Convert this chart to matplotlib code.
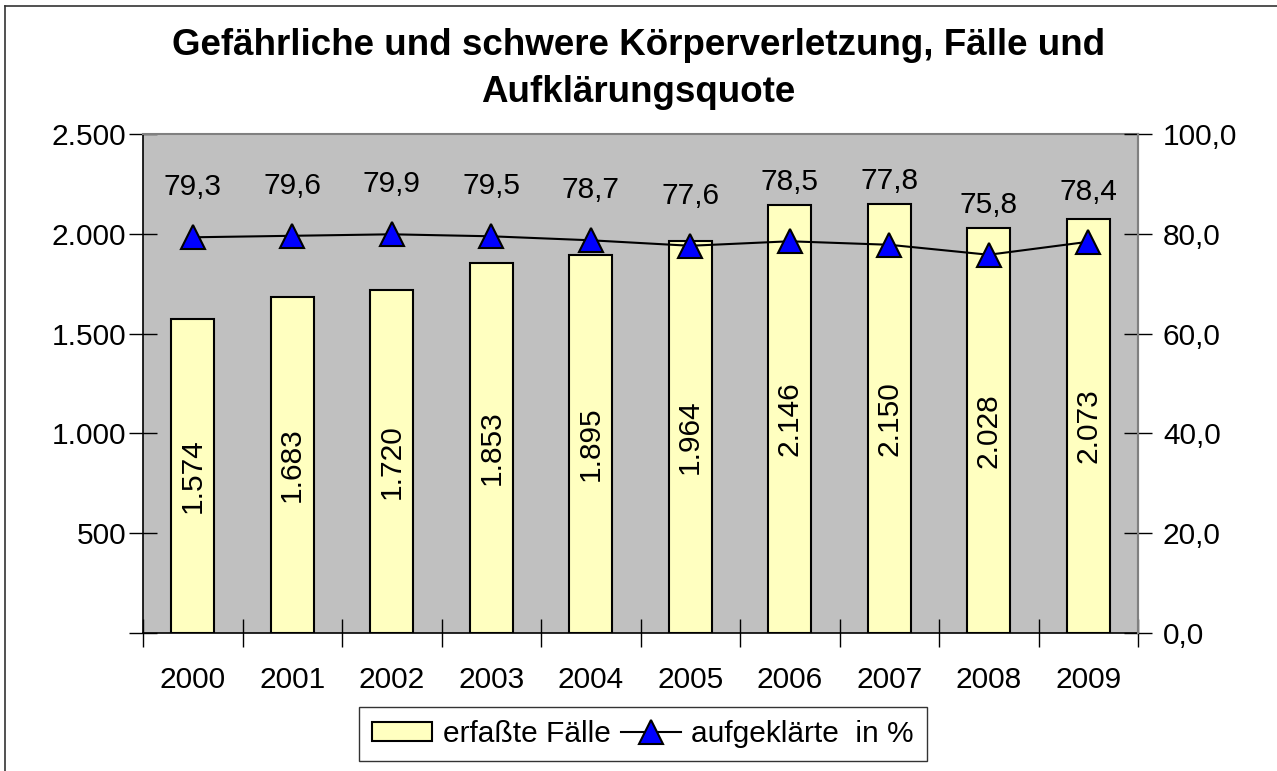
import matplotlib
matplotlib.use("Agg")
import matplotlib.pyplot as plt
from matplotlib.lines import Line2D
from matplotlib.patches import Patch
import numpy as np

years = ["2000", "2001", "2002", "2003", "2004", "2005", "2006", "2007", "2008", "2009"]
cases = [1574, 1683, 1720, 1853, 1895, 1964, 2146, 2150, 2028, 2073]
cleared_pct = [79.3, 79.6, 79.9, 79.5, 78.7, 77.6, 78.5, 77.8, 75.8, 78.4]
left_ticks = [0, 500, 1000, 1500, 2000, 2500]
left_ticklabels = ["", "500", "1.000", "1.500", "2.000", "2.500"]
right_ticks = [0, 20, 40, 60, 80, 100]
right_ticklabels = ["0,0", "20,0", "40,0", "60,0", "80,0", "100,0"]
title = "Gefährliche und schwere Körperverletzung, Fälle und\nAufklärungsquote"
legend_labels = ["erfaßte Fälle", "aufgeklärte  in %"]

plt.rcParams['font.family'] = ['Liberation Sans', 'DejaVu Sans']
FS = 21.5

W, H = 1277, 771
fig = plt.figure(figsize=(W / 100, H / 100), dpi=100)

# figure border (top and left visible)
fig.add_artist(Line2D([5 / W, 5 / W], [0, 1 - 5.5 / H], color='#333333', lw=1.2, transform=fig.transFigure))
fig.add_artist(Line2D([5 / W, 1], [1 - 5.5 / H, 1 - 5.5 / H], color='#333333', lw=1.2, transform=fig.transFigure))

left, right, top, bottom = 143, 1138, 134, 633
ax = fig.add_axes([left / W, 1 - bottom / H, (right - left) / W, (bottom - top) / H])
ax.set_facecolor('#C0C0C0')

x = np.arange(len(years))
ax.bar(x, cases, width=0.43, color='#FFFFC0', edgecolor='black', linewidth=1.5, zorder=2)
ax.set_xlim(-0.5, len(years) - 0.5)
ax.set_ylim(0, 2500)
ax.set_yticks(left_ticks)
ax.set_yticklabels(left_ticklabels, fontsize=FS)
ax.set_xticks(x)
ax.set_xticklabels(years, fontsize=FS)
ax.tick_params(axis='x', length=0, pad=24)
ax.set_xticks(np.arange(len(years) + 1) - 0.5, minor=True)
ax.tick_params(axis='x', which='minor', direction='inout', length=20, width=1)
ax.tick_params(axis='y', direction='inout', length=20, width=1, pad=2)

for xi, v in zip(x, cases):
    ax.text(xi, v / 2, f"{v:,}".replace(",", "."), rotation=90, ha='center', va='center',
            fontsize=FS, zorder=3)

for s in ['top', 'right']:
    ax.spines[s].set_color('#808080')
    ax.spines[s].set_linewidth(1.5)
for s in ['left', 'bottom']:
    ax.spines[s].set_color('black')
    ax.spines[s].set_linewidth(1.2)

ax2 = ax.twinx()
ax2.set_ylim(0, 100)
ax2.plot(x, cleared_pct, color='black', lw=1.5, marker='^', markersize=17,
         markerfacecolor='#0000FF', markeredgecolor='black', markeredgewidth=1.5, zorder=4)
ax2.set_yticks(right_ticks)
ax2.set_yticklabels(right_ticklabels, fontsize=FS)
ax2.tick_params(axis='y', direction='inout', length=20, width=1, pad=8)
ax2.spines['right'].set_color('#808080')
ax2.spines['right'].set_linewidth(1.5)
ax2.spines['top'].set_visible(False)
ax2.spines['left'].set_visible(False)
ax2.spines['bottom'].set_visible(False)

for xi, v, c in zip(x, cleared_pct, cases):
    ylab = max(v + 10.0, c / 2500 * 100 + 4.5)
    ax2.text(xi, ylab, f"{v:.1f}".replace(".", ","), ha='center', va='center', fontsize=FS, zorder=5)

fig.text(0.5, 1 - 69 / H, title, ha='center', va='center', fontsize=26.5, fontweight='bold',
         linespacing=1.42)

handles = [Patch(facecolor='#FFFFC0', edgecolor='black', linewidth=1.5),
           Line2D([], [], color='black', lw=1.5, marker='^', markersize=17,
                  markerfacecolor='#0000FF', markeredgecolor='black', markeredgewidth=1.5)]
leg = fig.legend(handles, legend_labels, loc='center', bbox_to_anchor=(643 / W, 1 - 734 / H),
                 ncol=2, fontsize=FS, frameon=True, fancybox=False, edgecolor='black',
                 handlelength=2.0, handleheight=0.65, handletextpad=0.35, columnspacing=0.35,
                 borderpad=0.45, borderaxespad=0)
leg.get_frame().set_linewidth(1.0)

fig.savefig("out.png", dpi=100)
